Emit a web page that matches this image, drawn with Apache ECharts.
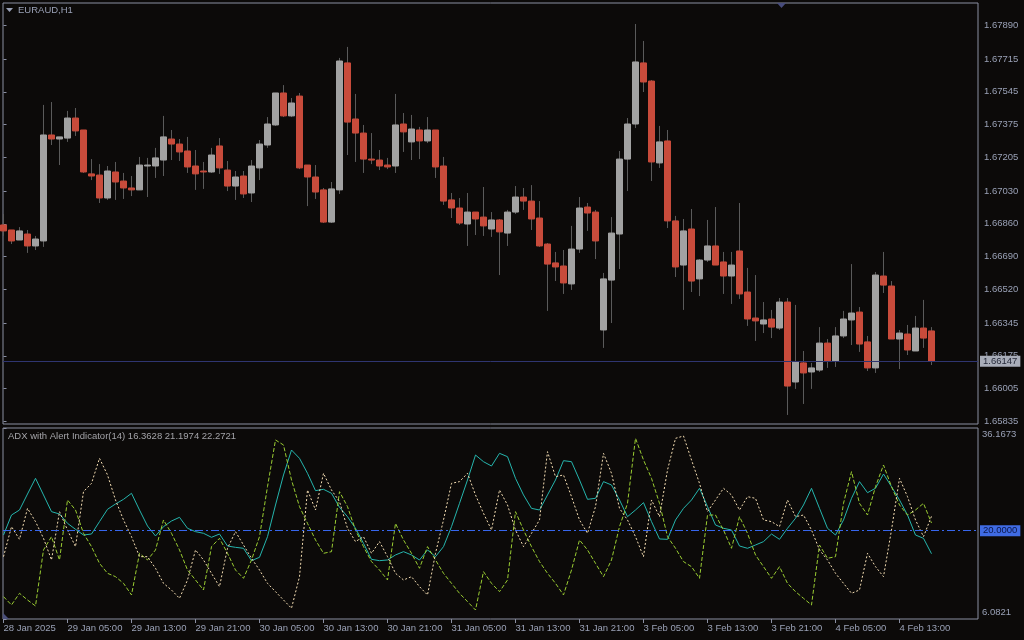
<!DOCTYPE html>
<html><head><meta charset="utf-8">
<script src="https://cdn.jsdelivr.net/npm/echarts@6/dist/echarts.min.js"></script>
<style>html,body{margin:0;padding:0;background:#0c0a09;}#c{width:1024px;height:640px;}</style>
</head><body><div id="c"></div>
<script>
const symbolTitle = 'EURAUD,H1';
const indicatorTitle = 'ADX with Alert Indicator(14) 16.3628 21.1974 22.2721';
const timeLabels = ['28 Jan 2025','29 Jan 05:00','29 Jan 13:00','29 Jan 21:00','30 Jan 05:00','30 Jan 13:00','30 Jan 21:00','31 Jan 05:00','31 Jan 13:00','31 Jan 21:00','3 Feb 05:00','3 Feb 13:00','3 Feb 21:00','4 Feb 05:00','4 Feb 13:00'];
const barsPerLabel = 8;
const priceTicks = [1.67890,1.67715,1.67545,1.67375,1.67205,1.67030,1.66860,1.66690,1.66520,1.66345,1.66175,1.66005,1.65835];
const priceMin = 1.65821, priceMax = 1.68006;
const adxMin = 6.0821, adxMax = 36.1673, adxLevel = 20;

const open = [1.66854,1.66828,1.66776,1.66807,1.66745,1.66771,1.67321,1.67300,1.67305,1.67409,
1.67347,1.67119,1.67113,1.66994,1.67129,1.67082,1.67046,1.67036,1.67160,1.67160,
1.67191,1.67300,1.67274,1.67238,1.67160,1.67134,1.67129,1.67264,1.67139,1.67056,
1.67108,1.67020,1.67150,1.67269,1.67373,1.67539,1.67420,1.67523,1.67165,1.67103,
1.67036,1.66869,1.67036,1.67695,1.67404,1.67331,1.67196,1.67191,1.67165,1.67160,
1.67378,1.67285,1.67347,1.67290,1.67347,1.67160,1.66984,1.66942,1.66859,1.66921,
1.66895,1.66833,1.66880,1.66812,1.66921,1.66999,1.66978,1.66890,1.66755,1.66657,
1.66641,1.66548,1.66729,1.66947,1.66921,1.66309,1.66568,1.66807,1.67196,1.67378,
1.67695,1.67601,1.67176,1.67290,1.66875,1.66646,1.66833,1.66574,1.66672,1.66745,
1.66662,1.66589,1.66719,1.66506,1.66371,1.66340,1.66366,1.66319,1.66454,1.66039,
1.66138,1.66091,1.66101,1.66241,1.66148,1.66278,1.66361,1.66402,1.66247,1.66112,
1.66589,1.66537,1.66262,1.66288,1.66200,1.66319,1.66304];
const high = [1.66911,1.66828,1.66843,1.66828,1.66797,1.67477,1.67492,1.67311,1.67446,1.67461,
1.67347,1.67196,1.67170,1.67160,1.67181,1.67124,1.67108,1.67207,1.67202,1.67254,
1.67420,1.67347,1.67300,1.67311,1.67243,1.67181,1.67254,1.67305,1.67186,1.67134,
1.67134,1.67191,1.67295,1.67414,1.67539,1.67580,1.67513,1.67539,1.67165,1.67165,
1.67046,1.67077,1.67721,1.67778,1.67534,1.67373,1.67331,1.67243,1.67202,1.67534,
1.67435,1.67425,1.67363,1.67414,1.67347,1.67207,1.67020,1.66994,1.67020,1.66921,
1.67051,1.66921,1.66885,1.66932,1.67056,1.67046,1.67061,1.66978,1.66760,1.66714,
1.66724,1.66849,1.66999,1.66968,1.66932,1.66605,1.66895,1.67238,1.67409,1.67897,
1.67809,1.67606,1.67368,1.67347,1.66901,1.66885,1.66937,1.66677,1.66880,1.66947,
1.66714,1.66714,1.66968,1.66631,1.66594,1.66454,1.66413,1.66475,1.66475,1.66439,
1.66200,1.66138,1.66324,1.66262,1.66324,1.66408,1.66651,1.66428,1.66278,1.66610,
1.66714,1.66563,1.66309,1.66335,1.66382,1.66465,1.66324];
const low = [1.66797,1.66755,1.66776,1.66709,1.66724,1.66740,1.67269,1.67165,1.67285,1.67316,
1.67124,1.67087,1.66968,1.66984,1.66984,1.66989,1.67004,1.67036,1.66999,1.67098,
1.67108,1.67191,1.67186,1.67124,1.67036,1.67041,1.67124,1.67119,1.67030,1.66984,
1.66994,1.66973,1.67087,1.67254,1.67368,1.67414,1.67414,1.67144,1.66952,1.66989,
1.66864,1.66864,1.67015,1.67217,1.67181,1.67124,1.67170,1.67139,1.67144,1.67124,
1.67233,1.67191,1.67196,1.67279,1.67098,1.66958,1.66890,1.66854,1.66745,1.66802,
1.66797,1.66792,1.66594,1.66745,1.66911,1.66932,1.66828,1.66740,1.66408,1.66563,
1.66496,1.66517,1.66709,1.66823,1.66677,1.66216,1.66345,1.66625,1.67030,1.67357,
1.67544,1.67082,1.67150,1.66838,1.66584,1.66413,1.66506,1.66485,1.66662,1.66646,
1.66496,1.66444,1.66470,1.66330,1.66252,1.66293,1.66267,1.66309,1.65868,1.66003,
1.65925,1.66003,1.66091,1.66112,1.66117,1.66267,1.66231,1.66195,1.66096,1.66086,
1.66501,1.66262,1.66106,1.66179,1.66200,1.66216,1.66127];
const close = [1.66823,1.66771,1.66823,1.66745,1.66781,1.67321,1.67300,1.67311,1.67409,1.67342,
1.67129,1.67108,1.66994,1.67134,1.67077,1.67046,1.67036,1.67165,1.67165,1.67202,
1.67311,1.67274,1.67233,1.67155,1.67119,1.67129,1.67217,1.67150,1.67056,1.67103,
1.67015,1.67160,1.67274,1.67378,1.67539,1.67420,1.67487,1.67150,1.67103,1.67025,
1.66869,1.67041,1.67705,1.67388,1.67331,1.67196,1.67191,1.67160,1.67155,1.67373,
1.67337,1.67352,1.67290,1.67347,1.67155,1.66978,1.66942,1.66864,1.66921,1.66885,
1.66849,1.66880,1.66818,1.66921,1.66999,1.66978,1.66885,1.66745,1.66651,1.66636,
1.66553,1.66729,1.66942,1.66916,1.66771,1.66574,1.66812,1.67196,1.67378,1.67700,
1.67596,1.67181,1.67285,1.66875,1.66636,1.66823,1.66563,1.66672,1.66745,1.66646,
1.66589,1.66646,1.66496,1.66366,1.66356,1.66361,1.66324,1.66454,1.66018,1.66143,
1.66086,1.66112,1.66241,1.66148,1.66278,1.66366,1.66397,1.66236,1.66112,1.66594,
1.66542,1.66262,1.66293,1.66205,1.66319,1.66267,1.66147];

const adx = [19.31,22.46,23.25,25.77,28.24,25.62,22.99,22.62,21.15,20.21,
19.31,19.47,21.42,23.36,24.20,24.93,25.88,23.25,20.73,19.16,
20.63,21.52,22.10,20.37,19.84,19.58,18.95,19.47,17.58,17.37,
17.22,15.27,15.80,19.05,24.04,28.77,32.70,31.39,29.03,26.30,
26.51,25.88,23.67,22.20,20.37,18.00,15.48,15.27,15.38,16.17,
16.69,16.17,15.38,16.96,15.90,17.48,20.63,24.30,27.98,31.91,
30.86,30.18,32.18,31.65,28.24,25.62,23.51,23.25,25.62,27.98,
31.02,30.86,27.98,24.93,25.09,27.72,27.19,24.83,22.20,23.25,
24.41,21.42,18.69,18.63,21.68,23.51,24.83,26.67,23.78,20.89,
20.37,20.10,17.58,17.22,17.74,18.27,19.47,18.63,20.37,21.94,
24.04,26.67,23.51,20.37,19.31,21.68,25.09,27.72,25.98,26.67,
28.92,26.93,24.83,22.46,19.31,18.79,16.3628];
const plusDI = [9.60,8.29,10.13,9.08,8.13,16.96,19.05,15.38,24.83,23.25,
19.58,17.48,14.85,13.28,12.75,11.70,9.87,16.43,15.38,16.96,
21.68,19.58,16.96,13.80,12.23,10.65,17.48,18.79,16.43,13.80,
12.49,15.38,19.05,26.93,34.28,33.49,27.98,23.78,21.15,18.53,
16.43,16.69,26.14,23.78,20.10,17.48,15.12,13.80,12.23,21.15,
18.53,16.43,14.07,17.48,15.38,13.28,11.70,10.13,8.82,7.50,
13.54,11.70,10.39,12.23,22.99,20.10,17.48,15.12,13.28,11.70,
9.87,13.80,18.53,16.96,14.85,12.75,15.38,20.63,24.30,34.54,
31.13,28.24,24.30,19.05,17.22,15.12,14.33,12.49,22.46,22.46,
20.10,17.22,22.20,19.58,16.17,14.33,12.49,14.33,11.70,10.39,
9.34,8.29,17.74,15.64,15.90,24.30,29.29,24.30,22.46,26.93,
30.34,26.93,24.04,22.46,23.25,24.30,21.1974];
const minusDI = [15.90,20.63,18.63,23.51,21.42,18.79,15.38,22.99,20.10,17.48,
26.14,27.45,31.39,28.77,24.83,21.68,19.05,15.90,15.90,14.07,
11.70,10.65,9.34,12.23,16.96,15.38,13.28,11.18,17.22,19.84,
17.74,15.64,13.80,11.70,10.39,9.08,7.77,12.75,26.40,23.25,
29.03,26.40,24.57,20.37,18.27,19.05,16.43,18.27,15.90,13.28,
12.23,12.75,11.18,9.87,16.43,21.68,27.45,27.72,29.03,25.62,
22.73,20.10,26.40,24.04,20.10,17.48,19.58,21.68,32.44,28.50,
28.77,25.35,21.68,19.58,23.78,32.18,29.03,23.51,21.68,19.05,
15.90,24.83,22.20,29.55,34.54,34.91,31.13,27.45,22.99,24.83,
26.67,25.62,23.25,25.35,25.09,21.68,21.42,20.63,24.83,22.20,
22.46,20.10,16.96,15.38,13.28,11.70,10.13,10.65,16.43,14.33,
12.75,20.10,28.24,25.35,21.68,19.05,22.2721];

// ---- build ----
const FONT = '"Liberation Sans", Arial, sans-serif';
const txt = '#9aa1b6';
const frame = '#8a8fa2';
const bullC = '#a2a2a2', bearC = '#c84b3b', wickC = '#5a5a5a';
const n = close.length;
const xMin = -0.0625, xMax = xMin + 975 / 8;
const labelIdx = timeLabels.map((_, i) => i * barsPerLabel);
const wickData = open.map((o, i) => [i, o, close[i], low[i], high[i]]);
const bodyData = open.map((o, i) => [i, o, close[i], Math.min(o, close[i]), Math.max(o, close[i])]);
const lastClose = close[n - 1];
const toXY = arr => arr.map((v, i) => [i, v]);

const chart = echarts.init(document.getElementById('c'), null, {renderer: 'canvas'});
chart.setOption({
  backgroundColor: '#0c0a09',
  animation: false,
  textStyle: {fontFamily: FONT},
  grid: [
    {left: 3, top: 3, width: 975, height: 421, show: true, borderColor: frame, borderWidth: 1, backgroundColor: 'transparent'},
    {left: 3, top: 428, width: 975, height: 191, show: true, borderColor: frame, borderWidth: 1, backgroundColor: 'transparent'}
  ],
  xAxis: [
    {type: 'value', gridIndex: 0, min: xMin, max: xMax, show: false, splitLine: {show: false}},
    {type: 'value', gridIndex: 1, min: xMin, max: xMax, splitLine: {show: false},
      axisLine: {show: false},
      axisTick: {show: true, customValues: labelIdx, length: 4, lineStyle: {color: frame}},
      axisLabel: {show: true, customValues: labelIdx, align: 'left', margin: 4, color: txt, fontSize: 9.5, fontFamily: FONT,
        formatter: v => timeLabels[Math.round(v / barsPerLabel)] || ''}}
  ],
  yAxis: [
    {type: 'value', gridIndex: 0, position: 'right', min: priceMin, max: priceMax, splitLine: {show: false},
      axisLine: {show: false},
      axisTick: {show: true, customValues: priceTicks, length: 3, lineStyle: {color: frame}},
      axisLabel: {show: true, customValues: priceTicks, margin: 6, color: txt, fontSize: 9.5, fontFamily: FONT,
        showMinLabel: true, showMaxLabel: true, formatter: v => v.toFixed(5)}},
    {type: 'value', gridIndex: 1, position: 'right', min: adxMin, max: adxMax, splitLine: {show: false},
      axisLine: {show: false},
      axisTick: {show: true, customValues: [adxMin, adxMax], length: 3, lineStyle: {color: frame}},
      axisLabel: {show: true, customValues: [adxMin, adxMax], margin: 4, color: txt, fontSize: 9.5, fontFamily: FONT,
        showMinLabel: true, showMaxLabel: true,
        formatter: v => (v > adxLevel ? '{t|' : '{b|') + v.toFixed(4) + '}',
        rich: {t: {padding: [13, 0, 0, 0], color: txt, fontSize: 9.5, fontFamily: FONT},
               b: {padding: [0, 0, 13, 0], color: txt, fontSize: 9.5, fontFamily: FONT}}}}
  ],
  series: [
    {name: 'priceLine', type: 'line', xAxisIndex: 0, yAxisIndex: 0, data: toXY(close), symbol: 'none',
      lineStyle: {opacity: 0, width: 0}, silent: true, z: 1,
      markLine: {silent: true, symbol: ['none', 'none'], animation: false, precision: 5,
        lineStyle: {color: '#2f3570', width: 1, type: 'solid'},
        label: {show: true, position: 'end', distance: 2, formatter: () => lastClose.toFixed(5),
          backgroundColor: '#a9adb9', color: '#262a3a', padding: [1, 3, 0, 3], fontSize: 9.5, fontFamily: FONT},
        data: [{yAxis: lastClose}]}},
    {name: 'wick', type: 'candlestick', xAxisIndex: 0, yAxisIndex: 0, data: wickData,
      encode: {x: 0, y: [1, 2, 3, 4]}, barWidth: 0, silent: true, z: 2,
      itemStyle: {color: wickC, color0: wickC, borderColor: wickC, borderColor0: wickC, borderWidth: 1}},
    {name: 'body', type: 'candlestick', xAxisIndex: 0, yAxisIndex: 0, data: bodyData,
      encode: {x: 0, y: [1, 2, 3, 4]}, barWidth: 6, silent: true, z: 3,
      itemStyle: {color: bullC, color0: bearC, borderColor: bullC, borderColor0: bearC, borderWidth: 1}},
    {name: 'ADX', type: 'line', xAxisIndex: 1, yAxisIndex: 1, data: toXY(adx), symbol: 'none',
      lineStyle: {color: '#25b5ad', width: 1}, z: 3,
      markLine: {silent: true, symbol: ['none', 'none'], animation: false, precision: 4,
        lineStyle: {color: '#3766ee', width: 1, type: [8, 3, 2, 3]},
        label: {show: true, position: 'end', distance: 2, formatter: () => adxLevel.toFixed(4),
          backgroundColor: '#3f6be3', color: '#0b1648', padding: [1, 3, 0, 3], fontSize: 9.5, fontFamily: FONT},
        data: [{yAxis: adxLevel}]}},
    {name: '+DI', type: 'line', xAxisIndex: 1, yAxisIndex: 1, data: toXY(plusDI), symbol: 'none',
      lineStyle: {color: '#9acd32', width: 1, type: [4, 2]}, z: 3},
    {name: '-DI', type: 'line', xAxisIndex: 1, yAxisIndex: 1, data: toXY(minusDI), symbol: 'none',
      lineStyle: {color: '#f5deb3', width: 1, type: [2, 2]}, z: 3}
  ],
  graphic: [
    {type: 'polygon', shape: {points: [[6, 8], [13, 8], [9.5, 12]]}, style: {fill: txt}, z: 10},
    {type: 'text', x: 18, y: 10.5, style: {text: symbolTitle, fill: txt, font: '9.5px ' + FONT, verticalAlign: 'middle'}, z: 10},
    {type: 'text', x: 8, y: 436, style: {text: indicatorTitle, fill: '#a3a3a8', font: '9.5px ' + FONT, verticalAlign: 'middle'}, z: 10},
    {type: 'polygon', shape: {points: [[777, 3], [786, 3], [781.5, 8]]}, style: {fill: '#474c7c'}, z: 10},
    {type: 'polygon', shape: {points: [[3, 613], [3, 619], [9, 619]]}, style: {fill: '#4a4f7a'}, z: 10}
  ]
});
</script>
</body></html>
